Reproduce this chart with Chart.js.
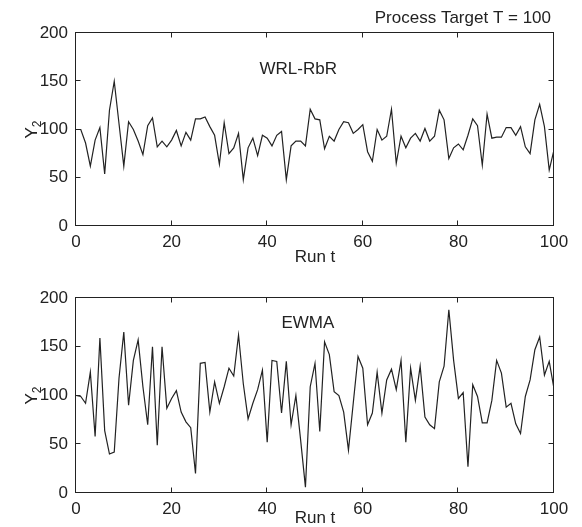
<!DOCTYPE html>
<html>
<head>
<meta charset="utf-8">
<title>WRL-RbR vs EWMA</title>
<script src="https://cdn.jsdelivr.net/npm/chart.js@4.4.1/dist/chart.umd.min.js"></script>
<style>
  html, body { margin: 0; padding: 0; background: #fff; overflow: hidden; }
  #wrap { position: relative; width: 582px; height: 527px; }
  canvas { position: absolute; left: 0; }
</style>
</head>
<body>
<div id="wrap">
  <canvas id="rbrChart" width="582" height="268" style="top:0"></canvas>
  <canvas id="ewmaChart" width="582" height="259" style="top:268px"></canvas>
</div>
<script>
// datos (run 0..100)
const runs = Array.from({ length: 101 }, (_, i) => i);

const rbrY = [
  100, 100, 86, 62, 89, 102, 54, 120, 150, 106,
  62, 108, 100, 88, 74, 104, 112, 82, 88, 82,
  89, 99, 83, 97, 89, 111, 111, 113, 103, 94,
  64, 107, 75, 81, 96, 48, 81, 91, 73, 94,
  91, 83, 94, 98, 48, 83, 88, 88, 83, 121,
  111, 110, 80, 93, 88, 100, 108, 107, 96, 100,
  105, 77, 67, 100, 89, 93, 121, 65, 93, 81,
  91, 96, 88, 101, 88, 93, 120, 110, 70, 81,
  85, 79, 94, 111, 104, 63, 116, 91, 92, 92,
  102, 102, 94, 103, 82, 75, 110, 126, 103, 58,
  79
];

const ewmaY = [
  100, 99, 92, 124, 58, 159, 64, 40, 42, 118,
  165, 90, 136, 157, 109, 70, 150, 49, 150, 87,
  97, 105, 83, 73, 67, 20, 133, 134, 83, 114,
  92, 109, 128, 120, 162, 112, 76, 92, 106, 126,
  52, 136, 135, 82, 135, 70, 100, 54, 6, 109,
  133, 63, 155, 142, 104, 100, 83, 44, 92, 140,
  128, 70, 82, 124, 82, 116, 127, 106, 136, 52,
  128, 95, 130, 78, 70, 66, 114, 130, 188, 136,
  97, 103, 27, 111, 99, 72, 72, 95, 136, 123,
  88, 92, 71, 61, 99, 116, 147, 160, 121, 135,
  107
];

const xTicks = [0, 20, 40, 60, 80, 100];
const yTicks = [0, 50, 100, 150, 200];

const INK = "#222222";
const FONT = "'Liberation Sans', Arial, sans-serif";

Chart.defaults.font.family = FONT;
Chart.defaults.font.size = 17;
Chart.defaults.color = INK;

// marco tipo matlab con ticks hacia dentro + textos
const matlabFrame = {
    id: "matlabFrame",
    afterDraw(chart, args, opts) {
        const { ctx, chartArea: a, scales } = chart;
        const x = scales.x, y = scales.y;
        const L = Math.round(a.left) - 0.5, R = Math.round(a.right) - 0.5;
        const T = Math.round(a.top) - 0.5, B = Math.round(a.bottom) - 0.5;
        const len = 5;

        ctx.save();
        ctx.strokeStyle = INK;
        ctx.lineWidth = 1;
        ctx.strokeRect(L, T, R - L, B - T);

        ctx.beginPath();
        xTicks.forEach((v) => {
            const px = Math.round(x.getPixelForValue(v)) - 0.5;
            ctx.moveTo(px, B); ctx.lineTo(px, B - len);
            ctx.moveTo(px, T); ctx.lineTo(px, T + len);
        });
        yTicks.forEach((v) => {
            const py = Math.round(y.getPixelForValue(v)) - 0.5;
            ctx.moveTo(L, py); ctx.lineTo(L + len, py);
            ctx.moveTo(R, py); ctx.lineTo(R - len, py);
        });
        ctx.stroke();

        ctx.fillStyle = INK;

        // Y_2 rotado
        const cy = (a.top + a.bottom) / 2;
        ctx.translate(31, cy);
        ctx.rotate(-Math.PI / 2);
        ctx.font = "17px " + FONT;
        const wY = ctx.measureText("Y").width;
        ctx.font = "12px " + FONT;
        const w2 = ctx.measureText("2").width;
        const start = -(wY + w2) / 2;
        ctx.textBaseline = "alphabetic";
        ctx.textAlign = "left";
        ctx.font = "17px " + FONT;
        ctx.fillText("Y", start, 6);
        ctx.font = "12px " + FONT;
        ctx.fillText("2", start + wY, 10);
        ctx.setTransform(1, 0, 0, 1, 0, 0);

        // anotaciones en coordenadas de datos
        ctx.font = "17px " + FONT;
        ctx.textAlign = "center";
        ctx.textBaseline = "alphabetic";
        (opts.notes || []).forEach((n) => {
            ctx.fillText(n.text, x.getPixelForValue(n.x), y.getPixelForValue(n.y));
        });

        if (opts.header) {
            ctx.textAlign = "right";
            ctx.fillText(opts.header, a.right - 3, 23);
        }
        ctx.restore();
    },
};

function makeChart(canvasId, values, axisHeight, padTop, titlePad, notes, header) {
    return new Chart(document.getElementById(canvasId), {
        type: "line",
        data: {
            labels: runs,
            datasets: [
                {
                    data: values.map((v, i) => ({ x: runs[i], y: v })),
                    borderColor: INK,
                    borderWidth: 1.2,
                    pointRadius: 0,
                    tension: 0,
                    fill: false,
                },
            ],
        },
        options: {
            responsive: false,
            animation: false,
            devicePixelRatio: 1,
            layout: { padding: { top: padTop, right: 28, left: 0, bottom: 0 } },
            plugins: {
                legend: { display: false },
                tooltip: { enabled: false },
                matlabFrame: { notes: notes, header: header },
            },
            scales: {
                x: {
                    type: "linear",
                    min: 0,
                    max: 100,
                    grid: { display: false, drawTicks: false },
                    border: { display: false },
                    ticks: { stepSize: 20, padding: 6, maxRotation: 0, autoSkip: false },
                    title: { display: true, text: "Run t", padding: { top: 0, bottom: titlePad } },
                    afterFit: (s) => { s.height = axisHeight; },
                },
                y: {
                    min: 0,
                    max: 200,
                    grid: { display: false, drawTicks: false },
                    border: { display: false },
                    ticks: { stepSize: 50, padding: 8 },
                    afterFit: (s) => { s.width = 76; },
                },
            },
        },
        plugins: [matlabFrame],
    });
}

makeChart("rbrChart", rbrY, 42, 33, 0, [{ text: "WRL-RbR", x: 46.5, y: 158 }], "Process Target T = 100");
makeChart("ewmaChart", ewmaY, 34, 30, -2, [{ text: "EWMA", x: 48.5, y: 169 }], null);
</script>
</body>
</html>
